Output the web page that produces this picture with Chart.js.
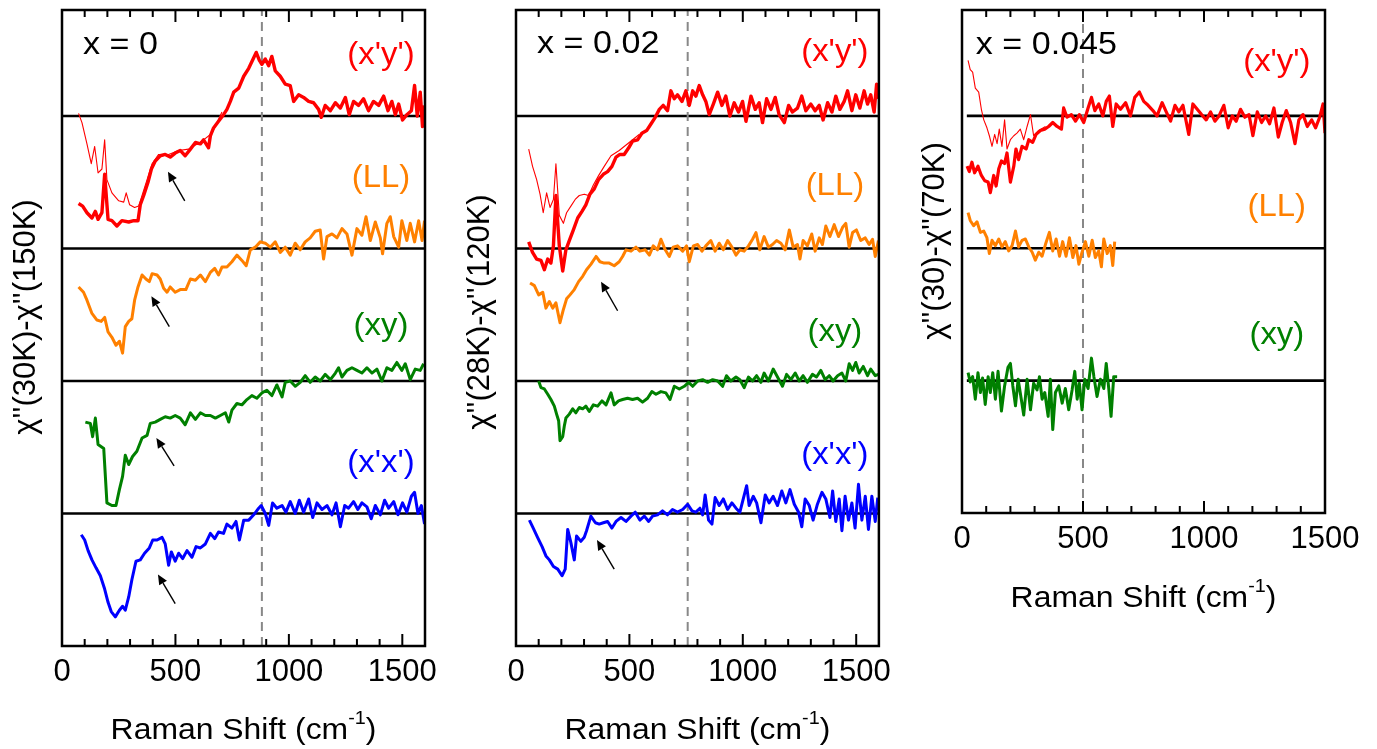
<!DOCTYPE html>
<html><head><meta charset="utf-8">
<script src="https://cdn.jsdelivr.net/npm/chart.js@4.4.1/dist/chart.umd.min.js"></script>
<style>
html,body{margin:0;padding:0;background:#fff;width:1377px;height:749px;overflow:hidden}
canvas{position:absolute;top:0}
</style></head>
<body>
<canvas id="c1" style="left:0px"></canvas>
<canvas id="c2" style="left:450px"></canvas>
<canvas id="c3" style="left:900px"></canvas>
<script>
// ---------------- DATA (Raman shift cm^-1, signal relative to its baseline) ----------------
const TICKS_MAJOR = [0, 500, 1000, 1500];
const SERIES_NAMES = ["(x'y')", "(LL)", "(xy)", "(x'x')"];
const COMPOSITIONS = ["x = 0", "x = 0.02", "x = 0.045"];
const Y_TITLES = ["χ''(30K)-χ''(150K)", "χ''(28K)-χ''(120K)", "χ''(30)-χ''(70K)"];
const X_TITLE = ["Raman Shift (cm", "-1", ")"];
const GUIDE_LINES = [881, 757, 500];

// x = 0
const P1_XPYP = [[73,-0.66],[91,-0.68],[110,-0.73],[132,-0.77],[147,-0.72],[159,-0.78],[176,-0.73],[188,-0.44],[203,-0.78],[220,-0.79],[242,-0.83],[264,-0.79],[294,-0.80],[316,-0.79],[335,-0.79],[345,-0.67],[360,-0.60],[379,-0.50],[394,-0.40],[411,-0.34],[433,-0.30],[455,-0.29],[477,-0.31],[499,-0.28],[521,-0.26],[543,-0.30],[566,-0.25],[588,-0.20],[610,-0.21],[624,-0.18],[646,-0.24],[654,-0.15],[668,-0.09],[690,-0.04],[712,0.01],[727,0.05],[742,0.11],[757,0.18],[779,0.21],[801,0.30],[823,0.36],[845,0.44],[856,0.48],[870,0.42],[881,0.39],[896,0.43],[911,0.38],[925,0.45],[940,0.34],[962,0.30],[984,0.24],[1006,0.23],[1021,0.11],[1043,0.16],[1065,0.14],[1087,0.11],[1109,0.10],[1131,0.05],[1143,-0.01],[1160,0.08],[1183,0.04],[1205,0.10],[1227,0.06],[1249,0.14],[1266,0.01],[1285,0.11],[1307,0.08],[1329,0.13],[1351,0.04],[1373,0.11],[1396,0.08],[1418,0.15],[1437,0.04],[1454,0.11],[1469,0.01],[1484,0.09],[1501,-0.03],[1520,0.01],[1540,0.04],[1554,0.23],[1566,0.00],[1579,0.18],[1589,-0.08],[1598,0.08]];
const P1_XPYP_THIN = [[73,0.02],[88,-0.05],[110,-0.21],[129,-0.36],[144,-0.23],[159,-0.43],[176,-0.40],[188,-0.18],[198,-0.48],[220,-0.58],[250,-0.64],[272,-0.65],[283,-0.58],[298,-0.67],[320,-0.69],[338,-0.68],[353,-0.60],[375,-0.48],[397,-0.36],[426,-0.29],[470,-0.29],[514,-0.26],[558,-0.25],[617,-0.19],[661,-0.13],[705,0.03]];
const P1_LL = [[73,-0.29],[95,-0.33],[110,-0.39],[132,-0.49],[154,-0.54],[173,-0.55],[188,-0.52],[203,-0.63],[220,-0.67],[238,-0.73],[253,-0.70],[267,-0.79],[279,-0.59],[294,-0.55],[308,-0.53],[320,-0.39],[335,-0.29],[353,-0.20],[370,-0.23],[385,-0.25],[397,-0.19],[419,-0.20],[433,-0.23],[448,-0.30],[463,-0.33],[477,-0.29],[499,-0.33],[521,-0.31],[546,-0.31],[566,-0.23],[588,-0.24],[610,-0.20],[632,-0.25],[654,-0.18],[673,-0.15],[690,-0.20],[705,-0.14],[727,-0.14],[749,-0.10],[771,-0.05],[793,-0.09],[812,-0.13],[830,-0.01],[852,0.01],[874,0.05],[896,0.04],[918,0.01],[940,0.05],[962,-0.03],[984,0.01],[1006,-0.05],[1028,0.04],[1050,-0.01],[1072,0.05],[1094,0.08],[1116,0.13],[1138,0.14],[1153,-0.08],[1168,0.09],[1190,0.11],[1212,0.08],[1234,0.15],[1256,0.11],[1278,-0.05],[1300,0.15],[1322,0.10],[1340,0.24],[1359,0.06],[1381,0.20],[1403,0.08],[1413,-0.04],[1432,0.19],[1447,0.24],[1462,0.09],[1484,0.01],[1498,0.21],[1520,0.06],[1535,0.19],[1554,0.05],[1572,0.21],[1587,0.06],[1598,0.21]];
const P1_XY = [[103,-0.31],[125,-0.32],[135,-0.42],[147,-0.28],[159,-0.48],[184,-0.51],[198,-0.92],[220,-0.94],[238,-0.94],[253,-0.82],[267,-0.72],[279,-0.56],[294,-0.63],[311,-0.57],[330,-0.53],[353,-0.43],[375,-0.41],[389,-0.32],[411,-0.31],[433,-0.29],[455,-0.27],[477,-0.28],[499,-0.26],[521,-0.28],[543,-0.33],[566,-0.24],[588,-0.29],[610,-0.24],[632,-0.26],[654,-0.26],[676,-0.28],[698,-0.26],[720,-0.24],[735,-0.31],[749,-0.22],[771,-0.17],[793,-0.18],[815,-0.14],[837,-0.11],[859,-0.13],[881,-0.09],[903,-0.07],[925,-0.11],[947,-0.03],[970,-0.12],[984,-0.01],[1006,0.00],[1028,-0.04],[1050,-0.01],[1072,0.04],[1094,-0.01],[1116,0.03],[1138,0.00],[1160,0.05],[1183,0.01],[1205,0.06],[1219,0.10],[1234,0.03],[1256,0.08],[1278,0.10],[1300,0.08],[1322,0.06],[1344,0.10],[1366,0.06],[1388,0.09],[1410,0.00],[1432,0.10],[1454,0.08],[1476,0.14],[1498,0.08],[1513,0.13],[1535,0.01],[1557,0.09],[1579,0.08],[1594,0.13]];
const P1_XPXP = [[85,-0.16],[100,-0.20],[115,-0.28],[132,-0.35],[150,-0.41],[169,-0.47],[188,-0.57],[203,-0.67],[217,-0.74],[235,-0.78],[253,-0.73],[267,-0.70],[279,-0.73],[294,-0.63],[308,-0.50],[326,-0.36],[345,-0.35],[364,-0.30],[385,-0.26],[400,-0.20],[419,-0.20],[441,-0.18],[455,-0.23],[470,-0.39],[482,-0.29],[499,-0.36],[514,-0.30],[532,-0.34],[551,-0.28],[573,-0.33],[591,-0.25],[610,-0.26],[632,-0.23],[654,-0.15],[673,-0.19],[690,-0.14],[712,-0.15],[727,-0.08],[749,-0.11],[767,-0.06],[782,-0.20],[801,-0.05],[823,-0.05],[845,-0.01],[867,0.04],[878,0.06],[896,0.00],[911,-0.09],[928,0.08],[947,0.04],[970,0.06],[987,0.01],[1006,0.09],[1028,0.00],[1046,0.10],[1065,0.01],[1087,0.11],[1105,-0.03],[1124,0.08],[1146,0.03],[1168,0.06],[1190,-0.01],[1208,0.08],[1227,-0.10],[1246,0.06],[1263,0.04],[1285,0.09],[1304,0.03],[1322,0.08],[1344,0.05],[1363,-0.04],[1381,0.06],[1403,-0.01],[1422,0.10],[1440,0.04],[1462,0.09],[1481,-0.01],[1501,0.08],[1520,0.01],[1540,0.13],[1554,0.16],[1569,0.00],[1584,0.06],[1598,-0.08]];

// x = 0.02
const P2_XPYP = [[56,-0.95],[73,-1.03],[91,-1.08],[110,-1.09],[125,-1.16],[140,-1.08],[154,-1.11],[165,-0.98],[176,-0.60],[191,-0.98],[206,-1.17],[220,-1.01],[235,-0.94],[253,-0.86],[272,-0.77],[291,-0.72],[308,-0.67],[326,-0.59],[345,-0.55],[364,-0.48],[385,-0.44],[404,-0.42],[423,-0.38],[441,-0.31],[458,-0.29],[477,-0.29],[497,-0.24],[514,-0.19],[536,-0.18],[555,-0.13],[576,-0.11],[595,-0.06],[614,-0.01],[632,0.05],[649,0.08],[668,0.04],[683,0.19],[698,0.13],[712,0.16],[732,0.11],[749,0.19],[764,0.08],[779,0.19],[793,0.15],[808,0.23],[823,0.16],[837,0.11],[852,0.01],[870,0.09],[889,0.18],[908,0.08],[925,0.15],[943,0.00],[962,0.10],[981,0.03],[999,0.11],[1014,-0.04],[1036,0.15],[1055,0.05],[1072,0.10],[1087,-0.05],[1105,0.13],[1124,0.05],[1143,0.14],[1160,0.01],[1183,-0.05],[1202,0.08],[1219,0.03],[1241,0.06],[1260,0.15],[1278,0.04],[1300,0.09],[1319,0.04],[1337,0.08],[1354,-0.03],[1374,0.10],[1393,0.03],[1410,0.15],[1428,0.05],[1447,0.11],[1462,0.19],[1481,0.04],[1498,0.16],[1516,0.06],[1535,0.19],[1550,0.09],[1564,0.16],[1579,0.03],[1590,0.24],[1598,0.13]];
const P2_XPYP_THIN = [[56,-0.25],[73,-0.38],[91,-0.48],[106,-0.59],[120,-0.73],[135,-0.58],[150,-0.69],[165,-0.63],[176,-0.36],[191,-0.75],[209,-0.81],[223,-0.73],[242,-0.68],[261,-0.63],[279,-0.60],[301,-0.59],[320,-0.60],[341,-0.52],[364,-0.45],[389,-0.38],[419,-0.30],[455,-0.26],[499,-0.20],[543,-0.14]];
const P2_LL = [[62,-0.26],[81,-0.28],[100,-0.35],[118,-0.33],[132,-0.45],[147,-0.40],[162,-0.45],[176,-0.41],[194,-0.56],[209,-0.46],[223,-0.38],[238,-0.35],[257,-0.31],[276,-0.25],[294,-0.21],[311,-0.16],[330,-0.12],[353,-0.06],[370,-0.10],[389,-0.11],[411,-0.11],[433,-0.13],[455,-0.10],[470,-0.06],[485,-0.01],[507,-0.02],[529,0.01],[546,-0.02],[570,-0.01],[588,-0.05],[605,0.02],[624,-0.01],[639,0.07],[658,-0.01],[676,-0.06],[693,0.01],[712,0.02],[735,-0.02],[752,0.02],[764,-0.10],[782,0.02],[801,0.03],[820,-0.02],[837,0.02],[859,0.06],[878,-0.02],[896,0.04],[914,-0.01],[933,0.06],[952,0.01],[970,-0.05],[987,-0.01],[1006,-0.02],[1025,0.02],[1043,0.07],[1058,0.12],[1075,-0.01],[1094,0.09],[1113,0.01],[1131,0.03],[1149,0.06],[1168,0.04],[1187,-0.01],[1205,0.14],[1222,0.01],[1241,0.03],[1252,-0.08],[1266,0.06],[1285,0.02],[1304,0.11],[1319,-0.02],[1337,0.08],[1351,0.03],[1366,0.17],[1384,0.09],[1403,0.18],[1422,0.09],[1440,0.16],[1454,0.19],[1469,0.01],[1484,0.12],[1501,0.14],[1520,0.06],[1540,0.08],[1557,0.03],[1572,0.07],[1584,-0.06],[1598,0.06]];
const P2_XY = [[100,0.00],[110,-0.05],[125,-0.06],[140,-0.10],[154,-0.14],[169,-0.19],[179,-0.25],[188,-0.30],[194,-0.45],[206,-0.42],[213,-0.34],[220,-0.28],[235,-0.25],[250,-0.21],[264,-0.24],[279,-0.20],[294,-0.21],[308,-0.19],[323,-0.23],[341,-0.18],[360,-0.19],[379,-0.15],[397,-0.18],[419,-0.09],[433,-0.18],[452,-0.15],[470,-0.14],[492,-0.13],[514,-0.14],[536,-0.13],[558,-0.16],[580,-0.13],[599,-0.08],[617,-0.10],[639,-0.08],[661,-0.09],[679,-0.14],[698,-0.04],[720,-0.06],[742,-0.04],[761,-0.01],[779,-0.04],[801,0.00],[823,0.01],[845,-0.01],[867,0.01],[889,0.00],[911,-0.04],[928,0.04],[947,0.00],[970,0.03],[987,0.01],[1006,-0.05],[1025,0.03],[1043,0.00],[1061,0.04],[1080,-0.01],[1094,0.06],[1113,0.00],[1134,0.09],[1153,0.03],[1175,-0.04],[1193,0.05],[1212,0.01],[1231,0.06],[1249,0.00],[1266,0.04],[1285,-0.01],[1307,0.05],[1325,0.03],[1344,0.08],[1363,0.01],[1381,0.04],[1398,0.00],[1418,0.04],[1437,0.06],[1454,0.00],[1469,0.13],[1484,0.08],[1498,0.14],[1513,0.06],[1531,0.11],[1550,0.04],[1564,0.09],[1584,0.04],[1598,0.05]];
const P2_XPXP = [[59,-0.05],[76,-0.11],[95,-0.18],[115,-0.25],[132,-0.32],[147,-0.35],[165,-0.40],[184,-0.42],[203,-0.47],[217,-0.42],[228,-0.12],[242,-0.22],[257,-0.35],[267,-0.17],[286,-0.21],[301,-0.18],[311,-0.13],[330,-0.02],[350,-0.07],[367,-0.08],[385,-0.07],[404,-0.06],[423,-0.11],[441,-0.06],[463,-0.03],[485,-0.06],[507,-0.02],[526,0.01],[546,-0.05],[566,-0.02],[585,-0.06],[602,-0.02],[624,-0.01],[646,0.02],[668,-0.01],[690,0.03],[712,0.01],[735,0.03],[757,0.07],[776,0.02],[793,0.01],[811,0.04],[823,-0.01],[834,0.14],[849,-0.05],[864,-0.08],[878,0.12],[896,0.06],[914,0.11],[933,0.03],[952,0.08],[970,0.04],[987,0.01],[1002,0.11],[1017,0.21],[1028,0.06],[1046,0.13],[1061,0.08],[1080,-0.07],[1099,0.14],[1116,0.08],[1134,0.13],[1153,0.06],[1172,0.17],[1190,0.08],[1208,0.18],[1227,0.07],[1246,0.01],[1260,-0.10],[1275,0.11],[1293,0.06],[1310,-0.05],[1329,0.07],[1349,0.16],[1366,0.11],[1384,-0.03],[1396,0.17],[1410,-0.06],[1425,0.11],[1437,-0.13],[1451,0.13],[1466,-0.05],[1481,0.08],[1495,-0.11],[1510,0.22],[1525,-0.05],[1540,0.13],[1554,-0.12],[1569,0.13],[1584,-0.06],[1595,0.12]];

// x = 0.045
const P3_XPYP = [[21,-0.38],[30,-0.42],[41,-0.35],[52,-0.43],[66,-0.38],[80,-0.45],[94,-0.49],[108,-0.50],[117,-0.58],[131,-0.45],[141,-0.53],[152,-0.40],[163,-0.34],[176,-0.36],[186,-0.28],[200,-0.50],[214,-0.38],[223,-0.25],[234,-0.33],[248,-0.23],[265,-0.25],[276,-0.18],[292,-0.20],[306,-0.14],[324,-0.11],[342,-0.10],[358,-0.08],[375,-0.05],[393,-0.08],[411,-0.10],[420,0.06],[434,-0.01],[452,0.01],[469,-0.04],[485,0.01],[503,-0.05],[521,0.06],[535,0.14],[549,0.04],[565,0.09],[582,0.00],[596,0.11],[609,0.15],[623,-0.08],[637,0.09],[655,0.05],[676,0.10],[696,0.00],[714,0.14],[733,0.18],[751,0.11],[769,0.08],[789,0.04],[806,0.00],[827,0.10],[844,0.03],[862,-0.04],[880,0.08],[896,0.03],[913,0.08],[937,-0.14],[954,0.09],[972,0.05],[990,0.01],[1009,-0.03],[1027,0.03],[1045,-0.04],[1062,0.00],[1082,0.08],[1100,-0.09],[1117,0.00],[1133,-0.04],[1151,0.05],[1169,-0.01],[1186,0.01],[1202,-0.15],[1220,0.03],[1238,-0.05],[1255,0.00],[1271,-0.06],[1289,0.06],[1307,-0.16],[1323,-0.05],[1340,0.04],[1358,-0.05],[1376,-0.21],[1392,-0.03],[1409,0.01],[1427,-0.08],[1445,-0.03],[1461,-0.09],[1478,-0.01],[1492,0.09],[1500,-0.13]];
const P3_XPYP_THIN = [[25,0.42],[34,0.35],[44,0.33],[55,0.21],[69,0.18],[80,0.05],[90,-0.03],[103,-0.09],[113,-0.15],[124,-0.23],[135,-0.14],[145,-0.21],[154,-0.10],[165,-0.23],[176,-0.03],[186,-0.25],[200,-0.18],[214,-0.15],[227,-0.13],[241,-0.10],[255,-0.18],[269,-0.08],[283,0.01],[296,-0.15],[317,-0.11],[345,-0.08]];
const P3_LL = [[25,0.27],[34,0.21],[48,0.17],[62,0.20],[76,0.12],[90,0.13],[103,0.08],[113,-0.04],[124,0.06],[138,0.02],[152,0.07],[165,0.01],[179,0.05],[193,-0.02],[207,0.02],[221,0.13],[234,0.01],[248,0.06],[262,0.07],[276,0.01],[290,-0.03],[303,-0.09],[317,-0.03],[331,-0.06],[345,0.03],[361,0.12],[375,-0.02],[389,0.07],[403,-0.06],[416,0.05],[430,-0.06],[444,0.08],[458,-0.07],[471,0.02],[483,-0.12],[496,-0.03],[510,0.05],[524,-0.06],[538,0.06],[551,-0.07],[565,-0.02],[576,-0.14],[586,0.07],[600,-0.04],[613,0.02],[623,-0.13],[631,0.05]];
const P3_XY = [[25,0.06],[34,-0.01],[44,0.03],[55,-0.14],[66,0.06],[76,-0.09],[85,0.02],[96,-0.18],[108,0.03],[117,-0.09],[127,0.06],[138,-0.14],[149,0.07],[163,-0.23],[176,-0.04],[190,0.10],[200,0.13],[210,-0.04],[221,-0.19],[232,0.01],[245,-0.14],[255,-0.26],[269,0.01],[283,-0.22],[296,-0.02],[310,-0.07],[320,0.03],[331,-0.14],[342,-0.09],[356,-0.27],[365,0.01],[375,-0.37],[386,-0.09],[400,-0.04],[414,-0.17],[427,-0.06],[441,-0.22],[455,-0.07],[466,0.07],[476,-0.14],[485,-0.02],[496,-0.22],[507,0.01],[521,-0.06],[535,0.17],[545,0.03],[558,-0.12],[572,0.01],[586,-0.06],[596,0.13],[607,-0.07],[616,-0.27],[627,0.03],[641,0.03]];

// annotation arrows (tail x, tail y, head x, head y)
const P1_ARROWS = [[541,3.36,467,3.58],[473,2.41,394,2.64],[494,1.36,416,1.57],[499,0.32,423,0.54]];
const P2_ARROWS = [[448,2.53,375,2.75],[433,0.58,357,0.80]];
// label anchors (x, y)
const P1_LABEL_POS = [[1406,4.46],[1406,3.53],[1406,2.41],[1406,1.38]];
const P2_LABEL_POS = [[1406,4.48],[1406,3.47],[1406,2.37],[1406,1.44]];
const P3_LABEL_POS = [[1301,3.40],[1301,2.31],[1301,1.34]];
const COMP_POS = [[93,4.53],[93,4.54],[57,3.53]];

// ---------------- STYLE / LAYOUT ----------------
const FAM = '"Liberation Sans", Arial, Helvetica, sans-serif';
const RED = '#ff0000', ORANGE = '#ff8000', GREEN = '#008000', BLUE = '#0000ff';
const H = 749;

const PANELS = [
  { id:'c1', width:450, area:{l:62,t:10,r:425,b:646}, xMax:1600, yMax:4.8, baseStart:0,
    series:[{pts:P1_XPYP,off:4,color:RED,w:3.4},{pts:P1_XPYP_THIN,off:4,color:RED,w:1.1},
            {pts:P1_LL,off:3,color:ORANGE,w:3},{pts:P1_XY,off:2,color:GREEN,w:3},{pts:P1_XPXP,off:1,color:BLUE,w:3}],
    baselines:[4,3,2,1], guide:GUIDE_LINES[0], arrows:P1_ARROWS,
    labels:[[SERIES_NAMES[0],P1_LABEL_POS[0],RED],[SERIES_NAMES[1],P1_LABEL_POS[1],ORANGE],[SERIES_NAMES[2],P1_LABEL_POS[2],GREEN],[SERIES_NAMES[3],P1_LABEL_POS[3],BLUE]],
    comp:[COMPOSITIONS[0],COMP_POS[0]], yTitle:Y_TITLES[0], yTitlePos:[26,317], xTitleY:731 },
  { id:'c2', width:450, area:{l:66,t:10,r:429,b:646}, xMax:1600, yMax:4.8, baseStart:0,
    series:[{pts:P2_XPYP,off:4,color:RED,w:3.4},{pts:P2_XPYP_THIN,off:4,color:RED,w:1.1},
            {pts:P2_LL,off:3,color:ORANGE,w:3},{pts:P2_XY,off:2,color:GREEN,w:3},{pts:P2_XPXP,off:1,color:BLUE,w:3}],
    baselines:[4,3,2,1], guide:GUIDE_LINES[1], arrows:P2_ARROWS,
    labels:[[SERIES_NAMES[0],P2_LABEL_POS[0],RED],[SERIES_NAMES[1],P2_LABEL_POS[1],ORANGE],[SERIES_NAMES[2],P2_LABEL_POS[2],GREEN],[SERIES_NAMES[3],P2_LABEL_POS[3],BLUE]],
    comp:[COMPOSITIONS[1],COMP_POS[1]], yTitle:Y_TITLES[1], yTitlePos:[30,312], xTitleY:731 },
  { id:'c3', width:477, area:{l:62,t:10,r:425,b:513}, xMax:1500, yMax:3.8, baseStart:20,
    series:[{pts:P3_XPYP,off:3,color:RED,w:3.2},{pts:P3_XPYP_THIN,off:3,color:RED,w:1.1},
            {pts:P3_LL,off:2,color:ORANGE,w:3},{pts:P3_XY,off:1,color:GREEN,w:3}],
    baselines:[3,2,1], guide:GUIDE_LINES[2], arrows:[],
    labels:[[SERIES_NAMES[0],P3_LABEL_POS[0],RED],[SERIES_NAMES[1],P3_LABEL_POS[1],ORANGE],[SERIES_NAMES[2],P3_LABEL_POS[2],GREEN]],
    comp:[COMPOSITIONS[2],COMP_POS[2]], yTitle:Y_TITLES[2], yTitlePos:[35,241], xTitleY:599 }
];

function drawText(ctx, text, x, y, size, color, align, sx) {
  ctx.save();
  ctx.translate(x, y);
  ctx.scale(sx, 1);
  ctx.font = size + 'px ' + FAM;
  ctx.fillStyle = color;
  ctx.textAlign = align;
  ctx.textBaseline = 'middle';
  ctx.fillText(text, 0, 0);
  ctx.restore();
}

function decoPlugin(P) {
  return {
    id: 'deco_' + P.id,
    afterDraw(chart) {
      const ctx = chart.ctx, xs = chart.scales.x, ys = chart.scales.y;
      const a = chart.chartArea;
      ctx.save();
      ctx.strokeStyle = '#000';
      ctx.lineWidth = 2.5;
      ctx.strokeRect(a.left, a.top, a.right - a.left, a.bottom - a.top);
      ctx.lineWidth = 2;
      for (let v = 100; v < P.xMax; v += 100) {
        const px = xs.getPixelForValue(v);
        const len = (v % 500 === 0) ? 12 : 7;
        ctx.beginPath();
        ctx.moveTo(px, a.bottom); ctx.lineTo(px, a.bottom - len);
        ctx.moveTo(px, a.top); ctx.lineTo(px, a.top + len);
        ctx.stroke();
      }
      ctx.lineWidth = 1.4;
      ctx.fillStyle = '#000';
      P.arrows.forEach(ar => {
        const x1 = xs.getPixelForValue(ar[0]), y1 = ys.getPixelForValue(ar[1]);
        const x2 = xs.getPixelForValue(ar[2]), y2 = ys.getPixelForValue(ar[3]);
        const ang = Math.atan2(y2 - y1, x2 - x1);
        const hl = 10, hw = 4.5;
        const bx = x2 - hl * Math.cos(ang), by = y2 - hl * Math.sin(ang);
        ctx.beginPath(); ctx.moveTo(x1, y1); ctx.lineTo(bx, by); ctx.stroke();
        ctx.beginPath();
        ctx.moveTo(x2, y2);
        ctx.lineTo(bx + hw * Math.sin(ang), by - hw * Math.cos(ang));
        ctx.lineTo(bx - hw * Math.sin(ang), by + hw * Math.cos(ang));
        ctx.closePath(); ctx.fill();
      });
      P.labels.forEach(l => {
        drawText(ctx, l[0], xs.getPixelForValue(l[1][0]), ys.getPixelForValue(l[1][1]), 31, l[2], 'center', 1.06);
      });
      drawText(ctx, P.comp[0], xs.getPixelForValue(P.comp[1][0]), ys.getPixelForValue(P.comp[1][1]), 31, '#000', 'left', 1.1);
      ctx.save();
      ctx.translate(P.yTitlePos[0], P.yTitlePos[1]);
      ctx.rotate(-Math.PI / 2);
      ctx.font = '31px ' + FAM;
      ctx.fillStyle = '#000';
      ctx.textAlign = 'center';
      ctx.textBaseline = 'middle';
      ctx.fillText(P.yTitle, 0, 0);
      ctx.restore();
      const fs = 29, sx = 1.1;
      ctx.font = fs + 'px ' + FAM;
      const w1 = ctx.measureText(X_TITLE[0]).width, w3 = ctx.measureText(X_TITLE[2]).width;
      ctx.font = Math.round(fs * 0.62) + 'px ' + FAM;
      const w2 = ctx.measureText(X_TITLE[1]).width;
      const cx = (a.left + a.right) / 2;
      const start = cx - (w1 + w2 + w3) * sx / 2;
      ctx.save();
      ctx.translate(start, P.xTitleY);
      ctx.scale(sx, 1);
      ctx.fillStyle = '#000';
      ctx.textAlign = 'left';
      ctx.textBaseline = 'middle';
      ctx.font = fs + 'px ' + FAM;
      ctx.fillText(X_TITLE[0], 0, 0);
      ctx.font = Math.round(fs * 0.62) + 'px ' + FAM;
      ctx.fillText(X_TITLE[1], w1, -fs * 0.42);
      ctx.font = fs + 'px ' + FAM;
      ctx.fillText(X_TITLE[2], w1 + w2, 0);
      ctx.restore();
      ctx.restore();
    }
  };
}

function buildPanel(P) {
  const cv = document.getElementById(P.id);
  cv.width = P.width; cv.height = H;
  cv.style.width = P.width + 'px'; cv.style.height = H + 'px';
  const datasets = [];
  P.series.forEach(s => datasets.push({
    data: s.pts.map(p => ({x: p[0], y: s.off + p[1]})),
    borderColor: s.color, borderWidth: s.w, pointRadius: 0, fill: false, tension: 0, order: 1,
    borderJoinStyle: 'round'
  }));
  datasets.push({data: [{x: P.guide, y: 0}, {x: P.guide, y: P.yMax}], borderColor: '#888888', borderWidth: 2,
    borderDash: [9, 6], pointRadius: 0, fill: false, order: 2});
  P.baselines.forEach(off => datasets.push({data: [{x: P.baseStart, y: off}, {x: P.xMax, y: off}],
    borderColor: '#000', borderWidth: 2.6, pointRadius: 0, fill: false, order: 3}));
  new Chart(cv, {
    type: 'line',
    data: {datasets},
    options: {
      responsive: false, animation: false, events: [], devicePixelRatio: 1,
      plugins: {legend: {display: false}, tooltip: {enabled: false}},
      layout: {padding: {left: 0, top: P.area.t, right: P.width - P.area.r, bottom: 0}},
      scales: {
        x: {type: 'linear', min: 0, max: P.xMax,
            afterFit(s) { s.height = H - P.area.b; },
            afterBuildTicks(s) { s.ticks = TICKS_MAJOR.map(v => ({value: v})); },
            ticks: {font: {family: FAM, size: 31}, color: '#000', padding: 8, maxRotation: 0, minRotation: 0,
                    autoSkip: false, callback: v => String(v)},
            grid: {display: false, drawTicks: false}, border: {display: false}},
        y: {type: 'linear', min: 0, max: P.yMax,
            afterFit(s) { s.width = P.area.l; },
            ticks: {display: false}, grid: {display: false, drawTicks: false}, border: {display: false}}
      }
    },
    plugins: [decoPlugin(P)]
  });
}
PANELS.forEach(buildPanel);
</script>
</body></html>
